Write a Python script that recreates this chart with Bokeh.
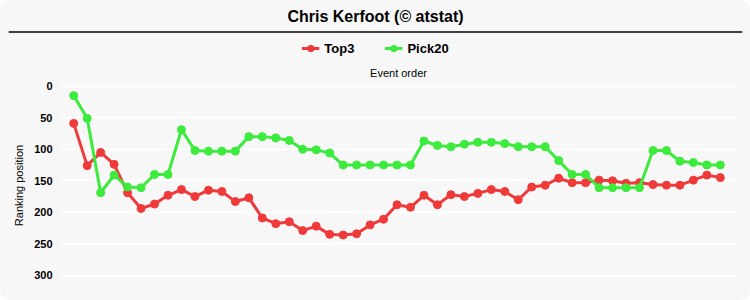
from bokeh.plotting import figure
from bokeh.layouts import column
from bokeh.models import Range1d, FixedTicker, Span, Label, Legend, LegendItem
from bokeh.embed import file_html
from bokeh.resources import INLINE

title_text = "Chris Kerfoot (© atstat)"
x_title = "Event order"
y_title = "Ranking position"
series_names = ["Top3", "Pick20"]
y_ticks = [0, 50, 100, 150, 200, 250, 300]

events = list(range(49))
top3 = [59, 126, 105, 124, 169, 194, 187, 173, 164, 175, 165, 167, 183, 177, 209, 218, 215,
        229, 222, 235, 236, 234, 220, 211, 188, 192, 173, 188, 172, 175, 170, 164, 167, 180,
        160, 157, 146, 153, 153, 149, 150, 154, 153, 156, 157, 157, 149, 141, 145]
pick20 = [15, 51, 169, 141, 160, 161, 140, 140, 69, 102, 103, 103, 103, 80, 80, 82, 86,
          100, 101, 106, 125, 125, 125, 125, 125, 125, 87, 94, 96, 92, 89, 89, 91, 96,
          96, 96, 118, 140, 140, 161, 161, 161, 161, 102, 102, 119, 121, 125, 125]

BG = "#f7f7f7"
RED = "#f03a3a"
GREEN = "#3ceb3c"
FONT = "Liberation Sans"
NAN = float("nan")

# Header: title, rule, legend
header = figure(width=750, height=60, x_range=Range1d(8, 742), y_range=Range1d(60, 0),
                x_axis_type=None, y_axis_type=None, toolbar_location=None,
                output_backend="svg", min_border_left=8, min_border_right=8,
                min_border_top=0, min_border_bottom=0, outline_line_color=None,
                background_fill_color=BG, border_fill_color=BG)
header.frame_align = False
header.add_layout(Label(x=375, y=16, text=title_text, text_align="center",
                        text_baseline="middle", text_font_size="16px",
                        text_font_style="bold", text_font=FONT, text_color="#000000"))
header.add_layout(Span(location=31.5, dimension="width", line_color="black", line_width=1.5))

l1 = header.line(x=[NAN], y=[NAN], line_color=RED, line_width=3)
s1 = header.scatter(x=[NAN], y=[NAN], size=6, fill_color=RED, line_color=RED)
l2 = header.line(x=[NAN], y=[NAN], line_color=GREEN, line_width=3)
s2 = header.scatter(x=[NAN], y=[NAN], size=6, fill_color=GREEN, line_color=GREEN)
legend = Legend(items=[LegendItem(label=series_names[0], renderers=[l1, s1]),
                       LegendItem(label=series_names[1], renderers=[l2, s2])],
                orientation="horizontal", location="bottom_center",
                border_line_color=None, background_fill_alpha=0, padding=0, margin=4,
                spacing=30, label_standoff=5, glyph_width=18, glyph_height=16,
                label_height=16, label_text_font_size="13px", label_text_font_style="bold",
                label_text_font=FONT, label_text_baseline="middle", label_text_color="#000000")
header.add_layout(legend)

# Main chart
p = figure(width=750, height=240, x_range=Range1d(-0.98, 49.2), y_range=Range1d(324, -9),
           x_axis_location="above", toolbar_location=None, output_backend="svg",
           min_border_left=60, min_border_right=14, min_border_top=20, min_border_bottom=10,
           background_fill_color=BG, border_fill_color=BG, outline_line_color=None)
p.frame_align = False

p.xaxis.ticker = FixedTicker(ticks=[])
p.xaxis.axis_line_color = None
p.xaxis.major_tick_line_color = None
p.xaxis.minor_tick_line_color = None
p.xaxis.major_tick_out = 0
p.xaxis.major_label_standoff = 0
p.xaxis.axis_label = x_title
p.xaxis.axis_label_standoff = 2
p.xaxis.axis_label_text_font = FONT
p.xaxis.axis_label_text_font_size = "11px"
p.xaxis.axis_label_text_font_style = "normal"
p.xaxis.axis_label_text_color = "#000000"
p.xgrid.visible = False

p.yaxis.ticker = FixedTicker(ticks=y_ticks)
p.yaxis.axis_line_color = None
p.yaxis.major_tick_line_color = None
p.yaxis.minor_tick_line_color = None
p.yaxis.major_tick_out = 0
p.yaxis.major_label_standoff = 8
p.yaxis.major_label_text_font = FONT
p.yaxis.major_label_text_font_size = "11px"
p.yaxis.major_label_text_font_style = "bold"
p.yaxis.major_label_text_color = "#000000"
p.yaxis.axis_label = y_title
p.yaxis.axis_label_standoff = 6
p.yaxis.axis_label_text_font = FONT
p.yaxis.axis_label_text_font_size = "11px"
p.yaxis.axis_label_text_font_style = "normal"
p.yaxis.axis_label_text_color = "#000000"
p.ygrid.grid_line_color = "white"
p.ygrid.grid_line_width = 1.5

p.line(events, top3, line_color=RED, line_width=3)
p.scatter(events, top3, size=8, fill_color=RED, line_color=RED)
p.line(events, pick20, line_color=GREEN, line_width=3)
p.scatter(events, pick20, size=8, fill_color=GREEN, line_color=GREEN)

layout = column(header, p, spacing=0,
                styles={"border-radius": "10px", "overflow": "hidden", "background-color": BG})

open("out.html", "w").write(file_html(layout, INLINE))
